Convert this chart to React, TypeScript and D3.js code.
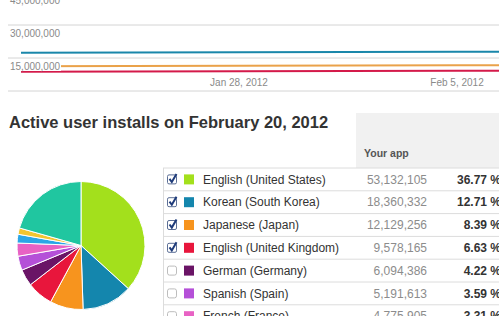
import React from "react";
import * as d3 from "d3";

// ---- Line chart data (top) ----
const lineDates = ["2012-01-20", "2012-01-28", "2012-02-05", "2012-02-08"];
const koreanSeries = [17.4e6, 17.58e6, 17.8e6, 17.88e6];
const japaneseSeries = [11.22e6, 11.45e6, 11.68e6, 11.75e6];
const ukSeries = [8.73e6, 8.95e6, 9.18e6, 9.25e6];
const yTicks = [0, 15e6, 30e6, 45e6];
const xTickDates = ["2012-01-28", "2012-02-05"];
const xTickLabels = ["Jan 28, 2012", "Feb 5, 2012"];

// ---- Table / pie data ----
const languages = [
  "English (United States)",
  "Korean (South Korea)",
  "Japanese (Japan)",
  "English (United Kingdom)",
  "German (Germany)",
  "Spanish (Spain)",
  "French (France)",
];
const installs = ["53,132,105", "18,360,332", "12,129,256", "9,578,165", "6,094,386", "5,191,613", "4,775,905"];
const shares = [36.77, 12.71, 8.39, 6.63, 4.22, 3.59, 3.31];
const checked = [true, true, true, true, false, false, false];
const langColors = ["#a3e01c", "#1486ad", "#f7941e", "#e8163c", "#6a1466", "#b550d8", "#e862c4"];
// remaining pie slices beyond visible rows
const extraShares = [2.2, 1.6, 20.58];
const extraColors = ["#2ba6e6", "#f2c531", "#20c6a0"];

const FONT = "'Liberation Sans', Arial, sans-serif";

export default function App() {
  const W = 499;
  const parse = d3.timeParse("%Y-%m-%d");
  const dates = lineDates.map((d) => parse(d)!);
  const x = d3
    .scaleTime()
    .domain([parse("2012-01-20")!, parse("2012-01-28")!])
    .range([21, 239]);
  const y = d3.scaleLinear().domain([0, 45e6]).range([91, -8]);
  const line = d3
    .line<number>()
    .x((_, i) => x(dates[i]))
    .y((v) => y(v));

  const series = [
    { values: koreanSeries, color: "#1a87aa" },
    { values: japaneseSeries, color: "#eaa24a" },
    { values: ukSeries, color: "#d41a4a" },
  ];

  // pie
  const pieVals = [...shares, ...extraShares];
  const pieCols = [...langColors, ...extraColors];
  const pie = d3.pie<number>().sort(null).value((d) => d)(pieVals);
  const arc = d3.arc<d3.PieArcDatum<number>>().innerRadius(0).outerRadius(64);

  const rowTop = 168;
  const rowH = 22.8;

  return (
    <svg
      width={W}
      height={316}
      style={{ position: "absolute", left: 0, top: 0, fontFamily: FONT }}
    >
      <rect width={W} height={316} fill="#fff" />
      {/* gridlines */}
      {yTicks.map((t) => (
        <line key={"g" + t} x1={8} x2={W} y1={y(t)} y2={y(t)} stroke="#d4d4d4" strokeWidth={1} />
      ))}
      {/* series */}
      {series.map((s, i) => (
        <path key={i} d={line(s.values)!} fill="none" stroke={s.color} strokeWidth={2} />
      ))}
      {/* y labels with white backdrop */}
      {yTicks
        .filter((t) => t > 0)
        .map((t) => (
          <g key={"yl" + t}>
            <rect x={9} y={y(t) + 3} width={52} height={10} fill="#fff" />
            <text x={10} y={y(t) + 8} dy="0.35em" fontSize={10} fill="#8a8a8a">
              {d3.format(",")(t)}
            </text>
          </g>
        ))}
      {/* x labels */}
      {xTickDates.map((d, i) => (
        <text
          key={d}
          x={x(parse(d)!)}
          y={82}
          dy="0.35em"
          textAnchor="middle"
          fontSize={10}
          fill="#8a8a8a"
        >
          {xTickLabels[i]}
        </text>
      ))}

      {/* title */}
      <text x={9} y={122} dy="0.35em" fontSize={16.5} fontWeight="bold" fill="#333">
        Active user installs on February 20, 2012
      </text>

      {/* table header */}
      <rect x={356} y={113} width={W - 356} height={55} fill="#f1f1f1" />
      <text x={364} y={153} dy="0.35em" fontSize={10.5} fontWeight="bold" fill="#555">
        Your app
      </text>

      {/* table rows */}
      <line x1={163.5} x2={163.5} y1={rowTop} y2={316} stroke="#dcdcdc" />
      {languages.map((lang, i) => {
        const top = rowTop + i * rowH;
        const cy = top + rowH / 2;
        return (
          <g key={lang}>
            <line x1={163} x2={W} y1={top} y2={top} stroke="#dcdcdc" />
            {checked[i] ? (
              <g>
                <rect x={167.5} y={cy - 4.5} width={9} height={9} rx={1.5} fill="#fff" stroke="#5c6f96" />
                <path
                  d={`M169.5 ${cy - 0.5} L171.8 ${cy + 2.6} L176.5 ${cy - 5.5}`}
                  fill="none"
                  stroke="#1e3b7a"
                  strokeWidth={2}
                />
              </g>
            ) : (
              <rect x={167.5} y={cy - 4.5} width={9} height={9} rx={2} fill="#fff" stroke="#bdbdbd" />
            )}
            <rect x={184} y={cy - 5} width={10} height={10} fill={langColors[i]} />
            <text x={203} y={cy} dy="0.35em" fontSize={12} fill="#333">
              {lang}
            </text>
            <text x={427} y={cy} dy="0.35em" fontSize={12} fill="#8c8c8c" textAnchor="end">
              {installs[i]}
            </text>
            <text x={501} y={cy} dy="0.35em" fontSize={12} fontWeight="bold" fill="#333" textAnchor="end">
              {shares[i].toFixed(2) + " %"}
            </text>
          </g>
        );
      })}

      {/* pie */}
      <g transform="translate(81,245.5)">
        {pie.map((p, i) => (
          <path key={i} d={arc(p)!} fill={pieCols[i]} stroke="#fff" strokeWidth={1} />
        ))}
      </g>
    </svg>
  );
}
